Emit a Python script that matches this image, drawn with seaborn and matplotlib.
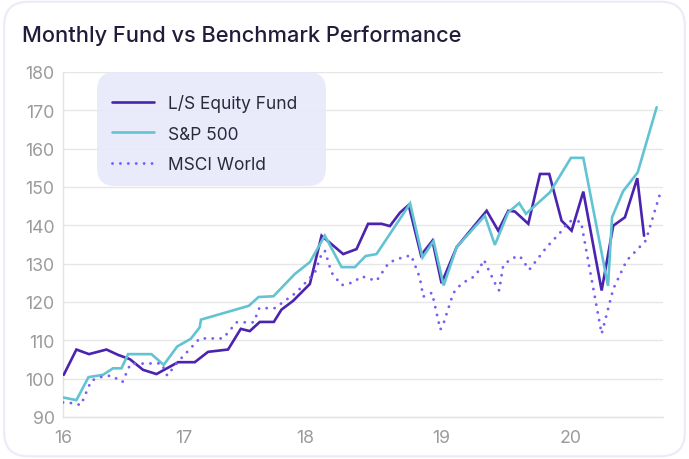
import numpy as np
import pandas as pd
import matplotlib
matplotlib.use("Agg")
import matplotlib.pyplot as plt
import seaborn as sns
from matplotlib.patches import FancyBboxPatch
from matplotlib.lines import Line2D

# ---------------- data (time in decimal years, index values) ----------------
series_names = ["L/S Equity Fund", "S&P 500", "MSCI World"]

fund_t = [2016.006, 2016.111, 2016.215, 2016.360, 2016.456, 2016.553, 2016.663, 2016.774,
          2016.953, 2017.091, 2017.201, 2017.366, 2017.471, 2017.545, 2017.628, 2017.744,
          2017.807, 2017.903, 2018.037, 2018.123, 2018.282, 2018.380, 2018.465, 2018.564,
          2018.625, 2018.699, 2018.763, 2018.854, 2018.938, 2019.005, 2019.121, 2019.352,
          2019.441, 2019.518, 2019.569, 2019.672, 2019.762, 2019.833, 2019.928, 2020.005,
          2020.095, 2020.236, 2020.325, 2020.415, 2020.510, 2020.562]
fund_v = [101.0, 107.6, 106.4, 107.6, 106.2, 105.1, 102.3, 101.2,
          104.3, 104.3, 107.0, 107.6, 113.0, 112.4, 114.8, 114.8,
          118.0, 120.3, 124.7, 137.3, 132.5, 133.8, 140.4, 140.4,
          139.8, 143.3, 145.3, 132.2, 136.0, 124.9, 134.3, 143.8,
          138.6, 143.8, 143.6, 140.4, 153.4, 153.4, 141.2, 138.6,
          148.8, 123.0, 139.9, 142.1, 152.3, 137.3]

sp_t = [2016.000, 2016.111, 2016.211, 2016.331, 2016.414, 2016.484, 2016.539, 2016.732,
        2016.834, 2016.946, 2017.058, 2017.132, 2017.142, 2017.537, 2017.618, 2017.741,
        2017.917, 2018.037, 2018.147, 2018.270, 2018.368, 2018.447, 2018.527, 2018.774,
        2018.865, 2018.946, 2019.021, 2019.121, 2019.338, 2019.415, 2019.518, 2019.602,
        2019.654, 2019.838, 2020.000, 2020.095, 2020.285, 2020.316, 2020.401, 2020.513,
        2020.659]
sp_v = [95.1, 94.4, 100.4, 101.0, 102.7, 102.7, 106.4, 106.4,
        103.6, 108.4, 110.4, 113.4, 115.4, 119.0, 121.3, 121.5,
        127.3, 130.4, 137.3, 129.1, 129.1, 132.0, 132.5, 145.7,
        131.6, 135.9, 124.3, 134.3, 142.5, 134.9, 143.4, 145.8,
        143.0, 148.6, 157.6, 157.6, 124.2, 142.1, 148.9, 153.8,
        170.8]

msci_t = [2016.000, 2016.083, 2016.148, 2016.234, 2016.331, 2016.401, 2016.492, 2016.559,
          2016.815, 2016.863, 2016.946, 2017.132, 2017.325, 2017.436, 2017.578, 2017.624,
          2017.752, 2017.931, 2018.074, 2018.123, 2018.147, 2018.196, 2018.270, 2018.355,
          2018.417, 2018.527, 2018.618, 2018.699, 2018.781, 2018.845, 2018.870, 2018.935,
          2018.996, 2019.023, 2019.095, 2019.146, 2019.185, 2019.269, 2019.331, 2019.364,
          2019.423, 2019.448, 2019.479, 2019.544, 2019.607, 2019.679, 2019.813, 2019.915,
          2019.985, 2020.077, 2020.236, 2020.325, 2020.428, 2020.575, 2020.680]
msci_v = [93.8, 93.6, 93.1, 99.5, 100.6, 100.8, 99.1, 103.9,
          104.0, 100.8, 104.2, 110.5, 110.5, 114.7, 114.7, 118.4,
          118.4, 122.5, 127.7, 132.5, 133.4, 127.7, 124.4, 125.1,
          126.7, 125.5, 130.3, 131.4, 132.2, 126.4, 121.4, 122.4,
          112.8, 114.7, 122.3, 124.3, 125.3, 126.9, 131.0, 128.6,
          124.4, 123.0, 129.5, 131.4, 132.0, 128.4, 134.3, 138.0,
          141.1, 141.0, 111.7, 123.4, 130.8, 136.0, 147.7]

year_ticks = [2016, 2017, 2018, 2019, 2020]
year_labels = ["16", "17", "18", "19", "20"]
y_ticks = [90, 100, 110, 120, 130, 140, 150, 160, 170, 180]

# ---------------- long table ----------------
df = pd.concat([
    pd.DataFrame({"t": fund_t, "v": fund_v, "series": series_names[0]}),
    pd.DataFrame({"t": sp_t, "v": sp_v, "series": series_names[1]}),
    pd.DataFrame({"t": msci_t, "v": msci_v, "series": series_names[2]}),
], ignore_index=True)

colors = {series_names[0]: "#4A23AE", series_names[1]: "#62C3D3", series_names[2]: "#7C5CF6"}
dot_pattern = (0.01, 2.7)
dashes = {series_names[0]: "", series_names[1]: "", series_names[2]: dot_pattern}

sns.set_theme(style="white")
plt.rcParams["font.family"] = ["Inter", "DejaVu Sans"]

fig = plt.figure(figsize=(6.89, 4.60), dpi=100)
fig.patch.set_facecolor("white")
card = FancyBboxPatch((0.006, 0.006), 0.988, 0.988,
                      boxstyle="round,pad=0,rounding_size=0.035",
                      transform=fig.transFigure, fc="white", ec="#ECEBF8", lw=1.6,
                      mutation_aspect=689 / 460, zorder=-10)
fig.patches.append(card)

ax = fig.add_axes([63 / 689, 1 - 418 / 460, 600 / 689, 345 / 460])
ax.set_facecolor("none")

sns.lineplot(data=df, x="t", y="v", hue="series", style="series",
             palette=colors, dashes=dashes, estimator=None, sort=False,
             linewidth=1.9, legend=False, ax=ax, zorder=3)
for ln in ax.lines:
    ln.set_dash_capstyle("round")
    ln.set_solid_joinstyle("miter")
ax.lines[2].set_linewidth(2.1)

# non-uniform time axis (year widths as laid out in the reference)
year_width = [120.7, 121.0, 136.0, 130.0, 130.0]
anchor_y = np.array([2000.0] + [2016.0 + i for i in range(6)] + [2040.0])
pos = np.concatenate([[0.0], np.cumsum(year_width)])
anchor_p = np.concatenate([[pos[0] - 16 * 120.7], pos, [pos[-1] + 19 * 130.0]])


def fwd(x):
    return np.interp(x, anchor_y, anchor_p)


def inv(p):
    return np.interp(p, anchor_p, anchor_y)


ax.set_xscale("function", functions=(fwd, inv))
ax.set_xlim(2016.0, inv(599.7))
ax.set_ylim(90, 180)
ax.set_xticks(year_ticks)
ax.set_xticklabels(year_labels)
ax.set_yticks(y_ticks)
ax.set_xlabel("")
ax.set_ylabel("")
ax.tick_params(axis="both", colors="#9B9B9B", labelsize=12.8, length=0)
ax.tick_params(axis="x", pad=9)
ax.tick_params(axis="y", pad=6)
ax.yaxis.grid(True, color="#E6E6E6", lw=1)
ax.xaxis.grid(False)
for s in ["top", "right"]:
    ax.spines[s].set_visible(False)
for s in ["left", "bottom"]:
    ax.spines[s].set_color("#E2E2E2")
    ax.spines[s].set_linewidth(1)

# legend panel (rounded, translucent) drawn separately
panel = FancyBboxPatch((34 / 600, (418 - 187) / 345), 229 / 600, 114 / 345,
                       boxstyle="round,pad=0,rounding_size=0.03",
                       mutation_aspect=600 / 345,
                       transform=ax.transAxes, fc="#E6E8FB", ec="none", alpha=0.85,
                       zorder=4)
ax.add_patch(panel)

handles = [
    Line2D([], [], color=colors[series_names[0]], lw=1.9),
    Line2D([], [], color=colors[series_names[1]], lw=1.9),
    Line2D([], [], color=colors[series_names[2]], lw=2.1, dashes=dot_pattern,
           dash_capstyle="round"),
]
leg = ax.legend(handles, series_names, loc="upper left",
                bbox_to_anchor=((112 - 63) / 600, (418 - 95) / 345),
                borderaxespad=0, borderpad=0, frameon=False, fontsize=12.5,
                handlelength=2.4, handletextpad=0.85, labelspacing=0.78,
                labelcolor="#2B2A3C")
leg.set_zorder(5)

fig.text(22 / 689, 1 - 36 / 460, "Monthly Fund vs Benchmark Performance",
         ha="left", va="center", fontsize=15.7, color="#1F1D3A", fontweight="medium")

fig.savefig("out.png", dpi=100)
